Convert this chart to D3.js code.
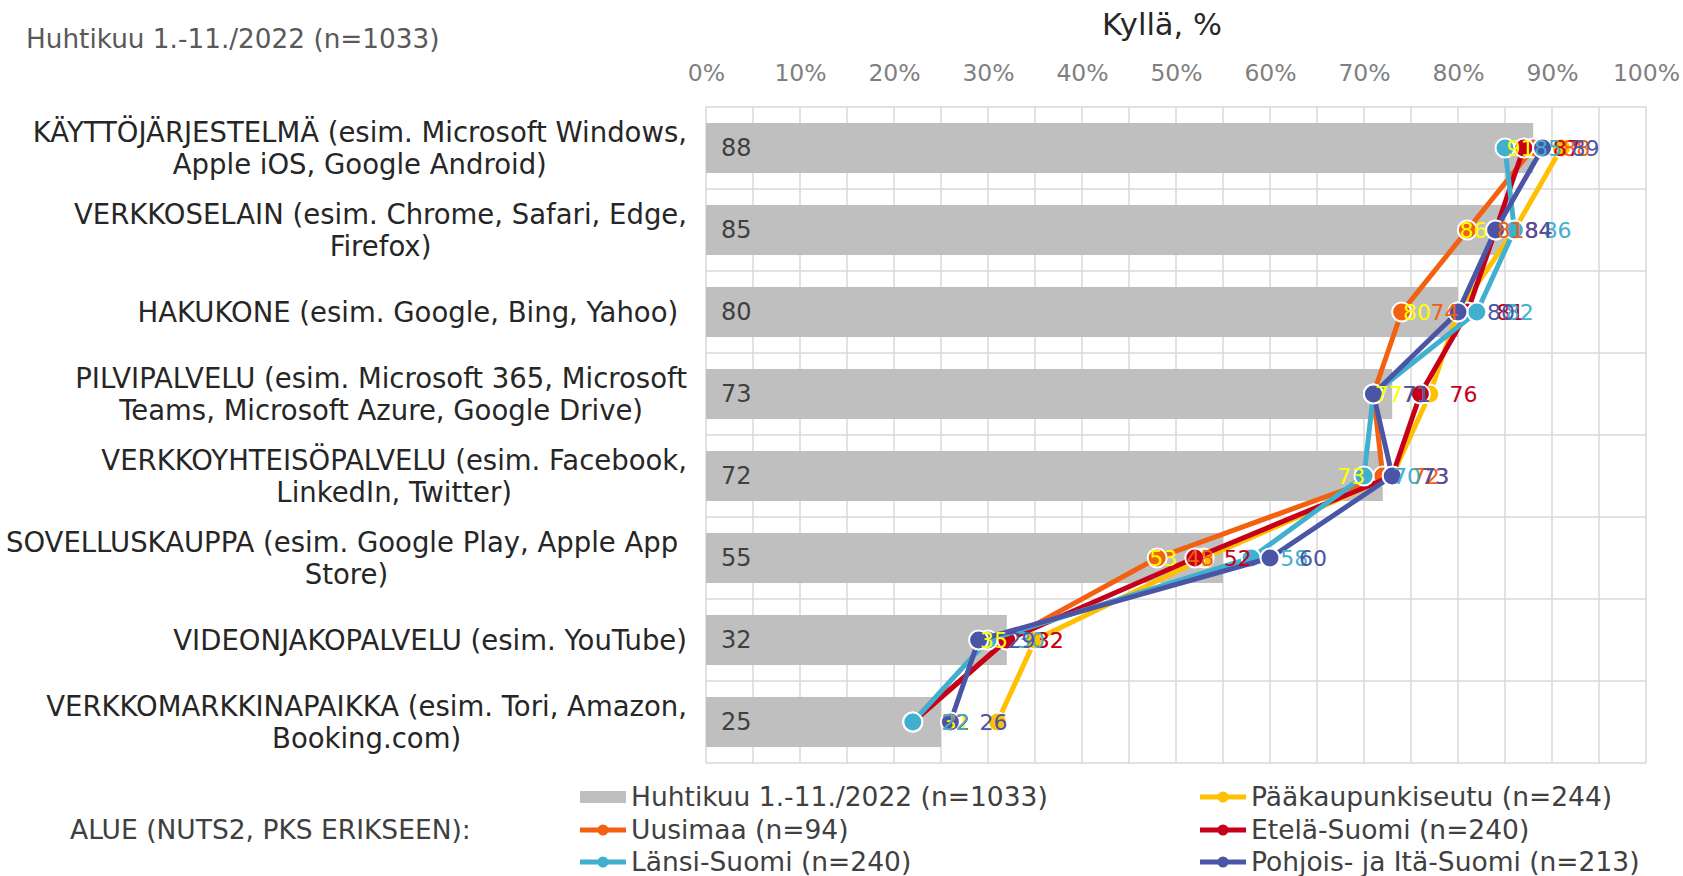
<!DOCTYPE html>
<html>
<head>
<meta charset="utf-8">
<script src="https://cdn.jsdelivr.net/npm/d3@7"></script>
<style>
  body { margin: 0; background: #fff; }
  svg text { font-family: "DejaVu Sans", Verdana, sans-serif; }
</style>
</head>
<body>
<svg id="chart" width="1683" height="876"></svg>
<script>
// categories (top to bottom), "\n" marks a line break
const categories = [
  "KÄYTTÖJÄRJESTELMÄ (esim. Microsoft Windows,\nApple iOS, Google Android)",
  "VERKKOSELAIN (esim. Chrome, Safari, Edge,\nFirefox)",
  "HAKUKONE (esim. Google, Bing, Yahoo) ",
  "PILVIPALVELU (esim. Microsoft 365, Microsoft\nTeams, Microsoft Azure, Google Drive)",
  "VERKKOYHTEISÖPALVELU (esim. Facebook,\nLinkedIn, Twitter)",
  "SOVELLUSKAUPPA (esim. Google Play, Apple App \nStore)",
  "VIDEONJAKOPALVELU (esim. YouTube)",
  "VERKKOMARKKINAPAIKKA (esim. Tori, Amazon,\nBooking.com)"
];
const total = [88, 85, 80, 73, 72, 55, 32, 25];
const paakaupunkiseutu = [91, 86, 80, 77, 73, 53, 35, 31];
const uusimaa = [88, 81, 74, 71, 72, 48, 32, 22];
const etelaSuomi = [87, 84, 81, 76, 73, 52, 32, 22];
const lansiSuomi = [85, 86, 82, 71, 70, 58, 30, 22];
const pohjoisItaSuomi = [89, 84, 80, 71, 73, 60, 29, 26];
const ticks = [0, 10, 20, 30, 40, 50, 60, 70, 80, 90, 100];
const totalName = "Huhtikuu 1.-11./2022 (n=1033)";

const series = [
  { name: "Pääkaupunkiseutu (n=244)", values: paakaupunkiseutu, color: "#FFC000", text: "#FFFF00", side: "left" },
  { name: "Uusimaa (n=94)", values: uusimaa, color: "#F26010", text: "#F26010", side: "right" },
  { name: "Etelä-Suomi (n=240)", values: etelaSuomi, color: "#C70019", text: "#C70019", side: "right" },
  { name: "Länsi-Suomi (n=240)", values: lansiSuomi, color: "#41B0CF", text: "#41B0CF", side: "right" },
  { name: "Pohjois- ja Itä-Suomi (n=213)", values: pohjoisItaSuomi, color: "#4A55A6", text: "#4A55A6", side: "right" }
];

const svg = d3.select("#chart");
const plotLeft = 706, plotRight = 1646, plotTop = 107, plotBottom = 763;

const x = d3.scaleLinear().domain([0, 100]).range([plotLeft, plotRight]);
const y = d3.scaleBand().domain(d3.range(categories.length)).range([plotTop, plotBottom]);
const barH = y.bandwidth() * 0.61;
const yc = i => y(i) + y.bandwidth() / 2;

// gridlines
const grid = svg.append("g").attr("stroke", "#D9D9D9").attr("stroke-width", 1.5);
d3.range(0, 101, 5).forEach(v => {
  grid.append("line").attr("x1", x(v)).attr("x2", x(v)).attr("y1", plotTop).attr("y2", plotBottom);
});
d3.range(categories.length + 1).forEach(i => {
  const yy = i < categories.length ? y(i) : plotBottom;
  grid.append("line").attr("x1", plotLeft).attr("x2", plotRight).attr("y1", yy).attr("y2", yy);
});

// top axis
const axis = svg.append("g")
  .attr("transform", `translate(0,${plotTop - 22})`)
  .call(d3.axisTop(x).tickValues(ticks).tickSize(0).tickPadding(0).tickFormat(d => d + "%"));
axis.select(".domain").remove();
axis.selectAll("text")
  .attr("font-size", 23.5).attr("fill", "#7F7F7F")
  .attr("dy", "0.35em").attr("y", -12);

svg.append("text").attr("x", 1162).attr("y", 24).attr("dy", "0.35em")
  .attr("text-anchor", "middle").attr("font-size", 30.5).attr("fill", "#262626")
  .text("Kyllä, %");

svg.append("text").attr("x", 26).attr("y", 39).attr("dy", "0.35em")
  .attr("font-size", 26.3).attr("fill", "#595959")
  .text(totalName);

// category labels: lines centred on the widest line, right edge at labelRight
const labelRight = 687;
categories.forEach((c, i) => {
  const lines = c.split("\n");
  const t = svg.append("text").attr("font-size", 27.5).attr("fill", "#262626")
    .attr("text-anchor", "middle").style("white-space", "pre");
  const spans = lines.map((l, k) => t.append("tspan").text(l)
    .attr("y", yc(i) + (k - (lines.length - 1) / 2) * 32).attr("dy", "0.35em"));
  const w = d3.max(spans, s => s.node().getComputedTextLength());
  spans.forEach(s => s.attr("x", labelRight - w / 2));
});

// bars
svg.append("g").selectAll("rect").data(total).join("rect")
  .attr("x", x(0)).attr("y", (d, i) => yc(i) - barH / 2)
  .attr("width", d => x(d) - x(0)).attr("height", barH)
  .attr("fill", "#BFBFBF");
svg.append("g").selectAll("text").data(total).join("text")
  .attr("x", x(0) + 15).attr("y", (d, i) => yc(i)).attr("dy", "0.35em")
  .attr("font-size", 24).attr("fill", "#404040")
  .text(d => d);

// lines + markers
const line = d3.line().x(d => x(d)).y((d, i) => yc(i));
series.forEach(s => {
  const g = svg.append("g");
  g.append("path").attr("d", line(s.values)).attr("fill", "none")
    .attr("stroke", s.color).attr("stroke-width", 5).attr("stroke-linejoin", "round");
  g.selectAll("circle").data(s.values).join("circle")
    .attr("cx", d => x(d)).attr("cy", (d, i) => yc(i)).attr("r", 9.5)
    .attr("fill", s.color).attr("stroke", "#fff").attr("stroke-width", 2);
});

// data labels
series.forEach(s => {
  svg.append("g").selectAll("text").data(s.values).join("text")
    .attr("x", d => x(d) + (s.side === "left" ? -27 : 29))
    .attr("y", (d, i) => yc(i)).attr("dy", "0.35em")
    .attr("text-anchor", s.side === "left" ? "end" : "start")
    .attr("font-size", 22).attr("fill", s.text)
    .text(d => d);
});

// legend
const legendRows = [797, 830, 862];
const legendCols = [580, 1200];
const legendItems = [{ name: totalName, bar: true }].concat(series);
legendItems.forEach((item, k) => {
  const lx = legendCols[k % 2], ly = legendRows[Math.floor(k / 2)];
  const g = svg.append("g");
  if (item.bar) {
    g.append("rect").attr("x", lx).attr("y", ly - 6).attr("width", 46).attr("height", 12).attr("fill", "#BFBFBF");
  } else {
    g.append("line").attr("x1", lx).attr("x2", lx + 46).attr("y1", ly).attr("y2", ly)
      .attr("stroke", item.color).attr("stroke-width", 5);
    g.append("circle").attr("cx", lx + 23).attr("cy", ly).attr("r", 5.5).attr("fill", item.color);
  }
  g.append("text").attr("x", lx + 51).attr("y", ly).attr("dy", "0.35em")
    .attr("font-size", 26.5).attr("fill", "#404040").text(item.name);
});
svg.append("text").attr("x", 70).attr("y", 830).attr("dy", "0.35em")
  .attr("font-size", 26.5).attr("fill", "#404040").text("ALUE (NUTS2, PKS ERIKSEEN):");
</script>
</body>
</html>
